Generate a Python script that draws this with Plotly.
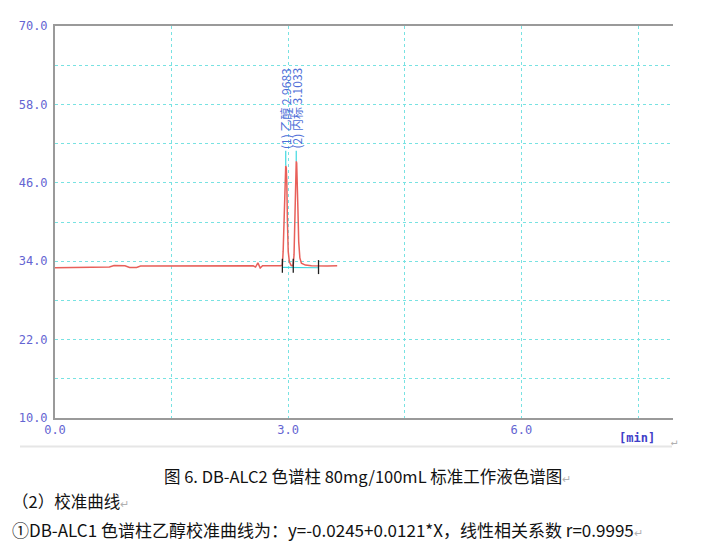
import plotly.graph_objects as go

# ---- data ----
time_min = [0.0, 0.3, 0.6, 0.7, 0.76, 0.9, 0.96, 1.05, 1.1, 1.5, 2.0, 2.55, 2.58, 2.61, 2.64, 2.67,
            2.9, 2.925, 2.935, 2.945, 2.955, 2.962, 2.9683, 2.975, 2.982, 2.99, 3.0, 3.015, 3.035, 3.05, 3.065,
            3.075, 3.085, 3.093, 3.098, 3.1033, 3.109, 3.116, 3.125, 3.135, 3.15, 3.17, 3.22, 3.3, 3.39, 3.5, 3.63]
signal = [33.0, 33.0, 33.02, 33.1, 33.35, 33.3, 33.05, 33.05, 33.25, 33.28, 33.3, 33.3, 33.1, 33.75, 32.95, 33.3,
          33.3, 33.4, 35.5, 41.0, 46.5, 48.3, 48.6, 48.3, 46.0, 40.0, 35.5, 33.9, 33.4, 33.3, 33.45,
          35.0, 41.5, 47.0, 49.0, 49.3, 49.0, 47.0, 42.0, 37.0, 34.5, 33.7, 33.4, 33.3, 33.25, 33.25, 33.3]

peak_times = [2.9683, 3.1033]
peak_heights = [48.6, 49.3]
peak_labels = ["(1) 乙醇 2.9683", "(2) 内标 3.1033"]
label_base = 50.9

mark_times = [2.925, 3.065, 3.39]
mark_levels = [33.3, 33.3, 33.1]

base_times = [2.925, 3.065, 3.065, 3.39]
base_levels = [33.05, 33.05, 33.05, 33.0]

x_tickvals = [0, 1.5, 3, 4.5, 6, 7.5]
x_ticktext = ["0.0", "", "3.0", "", "6.0", ""]
y_tickvals = [10, 16, 22, 28, 34, 40, 46, 52, 58, 64, 70]
y_ticktext = ["10.0", "", "22.0", "", "34.0", "", "46.0", "", "58.0", "", "70.0"]

caption = "图 6. DB-ALC2 色谱柱 80mg/100mL 标准工作液色谱图"
line2 = "（2）校准曲线"
line3 = "①DB-ALC1 色谱柱乙醇校准曲线为：y=-0.0245+0.0121*X，线性相关系数 r=0.9995"

TICK_COLOR = "#6464d2"
GRID = "#78e2e2"
RET = "<span style='color:#b0b0b0;font-size:11px'>↵</span>"

# page has an 8px body margin; plot area on page: x 55..673, y 19..418
PL, PR, PT, PB = 55, 673, 19, 418
OFF = 8
W, H = 705, 559


def px(x):
    return (x - PL) / (PR - PL)


def py(y):
    return (PB - y) / (PB - PT)


fig = go.Figure()

fig.add_trace(go.Scatter(x=base_times, y=base_levels, mode="lines",
                         line=dict(color="#40d8e0", width=1.2), hoverinfo="skip"))

fig.add_trace(go.Scatter(x=time_min, y=signal, mode="lines",
                         line=dict(color="#e8605a", width=1.5), hoverinfo="skip"))

for t, h in zip(peak_times, peak_heights):
    fig.add_trace(go.Scatter(x=[t, t], y=[h, label_base], mode="lines",
                             line=dict(color="#40d8e0", width=1.2), hoverinfo="skip"))

fig.add_trace(go.Scatter(x=mark_times, y=mark_levels, mode="markers",
                         marker=dict(symbol="line-ns-open", size=10, color="#202020",
                                     line=dict(color="#202020", width=1.3)),
                         hoverinfo="skip"))

for t, lab in zip(peak_times, peak_labels):
    fig.add_annotation(x=t, y=label_base, text=lab, textangle=-90, showarrow=False,
                       xanchor="center", yanchor="bottom", xref="x", yref="y",
                       font=dict(family="Noto Sans CJK SC", size=12, color="#4f6fd8"))

fig.update_layout(
    width=W, height=H,
    margin=dict(l=PL - OFF, r=W - (PR - OFF), t=PT - OFF, b=H - (PB - OFF)),
    paper_bgcolor="white", plot_bgcolor="white",
    showlegend=False,
    font=dict(family="DejaVu Sans Mono"),
)

fig.update_xaxes(range=[0, 7.95], tickvals=x_tickvals, ticktext=x_ticktext,
                 showgrid=True, gridcolor=GRID, griddash="dot", gridwidth=1,
                 showline=True, linecolor="#9a9a9a", linewidth=2, mirror=True,
                 ticks="", zeroline=False,
                 tickfont=dict(family="DejaVu Sans Mono", size=12, color=TICK_COLOR))
fig.update_yaxes(range=[10, 70], tickvals=y_tickvals, ticktext=y_ticktext,
                 showgrid=True, gridcolor=GRID, griddash="dot", gridwidth=1,
                 showline=True, linecolor="#9a9a9a", linewidth=2,
                 ticks="", zeroline=False, ticklabelstandoff=3,
                 tickfont=dict(family="DejaVu Sans Mono", size=12, color=TICK_COLOR))

fig.add_annotation(xref="paper", yref="paper", x=px(637), y=py(438), text="<b>[min]</b>",
                   showarrow=False, xanchor="center", yanchor="middle",
                   font=dict(family="DejaVu Sans Mono", size=12, color="#4040c8"))
fig.add_annotation(xref="paper", yref="paper", x=px(680), y=py(451), text="↵",
                   showarrow=False, font=dict(size=11, color="#b0b0b0"))

fig.add_shape(type="line", xref="paper", yref="paper",
              x0=px(20), x1=px(672), y0=py(447), y1=py(447),
              line=dict(color="#e6e6e6", width=2))

fig.add_annotation(xref="paper", yref="paper", x=px(367), y=py(477),
                   text=caption + RET, showarrow=False, xanchor="center", yanchor="middle",
                   font=dict(family="Noto Sans CJK SC", size=16.5, color="#111111"))
fig.add_annotation(xref="paper", yref="paper", x=px(10), y=py(502),
                   text=line2 + RET, showarrow=False, xanchor="left", yanchor="middle",
                   font=dict(family="Noto Sans CJK SC", size=16.5, color="#111111"))
fig.add_annotation(xref="paper", yref="paper", x=px(10), y=py(531),
                   text=line3 + RET, showarrow=False, xanchor="left", yanchor="middle",
                   font=dict(family="Noto Sans CJK SC", size=17, color="#111111"))

fig.write_html("out.html")
